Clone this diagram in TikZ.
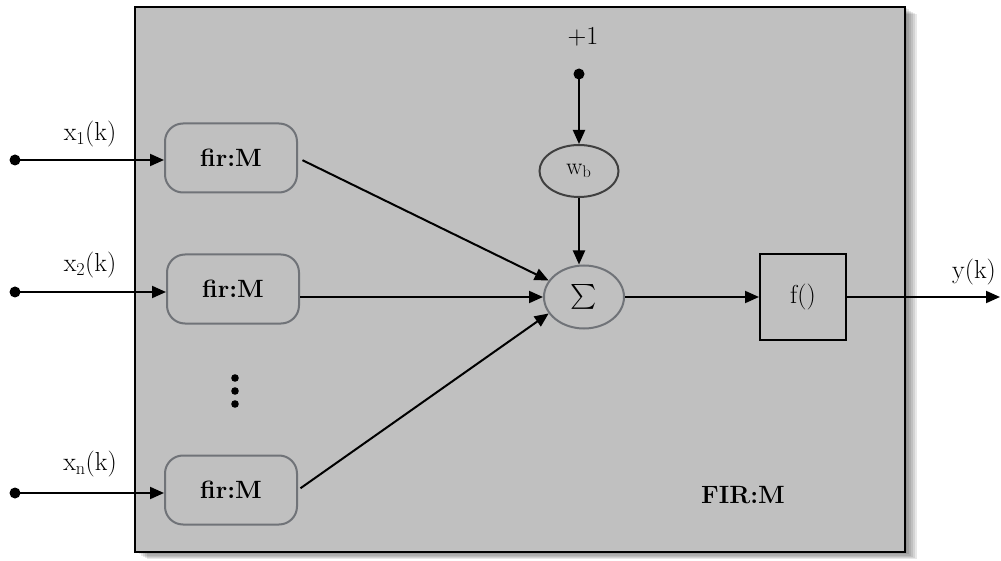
\documentclass[tikz,border=0pt]{standalone}
\usepackage{amsmath}
\usetikzlibrary{arrows.meta,shapes.geometric}
\definecolor{panel}{HTML}{C0C0C0}
\definecolor{firedge}{HTML}{707378}
\definecolor{wbedge}{HTML}{404040}
\begin{document}
\begin{tikzpicture}[x=1pt,y=-1pt,
  every node/.style={font=\fontsize{26}{30}\selectfont},
  arr/.style={line width=2pt,-{Triangle[length=14pt,width=12pt]}},
  firbox/.style={draw=firedge,line width=2pt,rounded corners=18pt,minimum width=132pt,minimum height=69pt,fill=panel,font=\fontsize{25}{30}\selectfont\bfseries},
  oval/.style={ellipse,line width=2pt,inner sep=0pt}]
\useasboundingbox (0,0) rectangle (1001,561);
% shadow
\foreach \i in {1,...,6}{
  \fill[black,opacity=0.09] (135+2*\i,7+1.2*\i) rectangle (905+2*\i,552+1.2*\i);
}
\node[draw=black,line width=2.5pt,fill=panel,minimum width=770pt,minimum height=545pt,inner sep=0pt] (panel) at (520,279.5) {};
% fir boxes
\node[firbox] (fir1) at (231,158) {fir:M};
\node[firbox] (fir2) at (233,289) {fir:M};
\node[firbox] (fir3) at (231,490) {fir:M};
% inputs
\coordinate (in1) at (15,160);
\coordinate (in2) at (15,292);
\coordinate (in3) at (15,493);
\foreach \k in {1,2,3}{\fill (in\k) circle (5.5);}
\draw[arr] (in1) -- (in1 -| fir1.west);
\draw[arr] (in2) -- (in2 -| fir2.west);
\draw[arr] (in3) -- (in3 -| fir3.west);
\node (l1) at (90,134) {x\textsubscript{1}(k)};
\node (l2) at (90,265) {x\textsubscript{2}(k)};
\node (l3) at (90,464) {x\textsubscript{n}(k)};
% vertical dots
\node (vd) at (235,391) {};
\foreach \yy in {-13,0,13}{\fill ([yshift=\yy]vd.center) circle (3.8);}
% bias
\node (plus) at (583,37) {+1};
\coordinate (bias) at (579,74);
\fill (bias) circle (5.5);
\node[oval,draw=wbedge,minimum width=79pt,minimum height=52pt,font=\fontsize{24}{28}\selectfont] (wb) at (579,171) {w\textsubscript{b}};
\node[oval,draw=firedge,minimum width=80pt,minimum height=63pt,font=\fontsize{24}{28}\selectfont] (sig) at (584,297) {$\sum$};
\draw[arr] (bias) -- (wb.north);
\draw[arr] (wb.south) -- (wb.south |- sig.north);
% fir -> sigma
\draw[arr,shorten <=5pt] (fir1.east) -- (sig.155);
\draw[arr] (fir2.east |- sig.west) -- (sig.west);
\draw[arr,shorten <=3pt] (fir3.east) -- (sig.205);
% f box
\node[draw=black,line width=2pt,minimum width=86pt,minimum height=85pt] (fb) at (803,297) {f()};
\draw[arr] (sig.east) -- (fb.west);
\coordinate (out) at (1000,297);
\draw[arr] (fb.east) -- (out);
\node (yk) at (974,272) {y(k)};
\node[font=\fontsize{25}{30}\selectfont\bfseries] (lab) at (743,495) {FIR:M};
\end{tikzpicture}
\end{document}
